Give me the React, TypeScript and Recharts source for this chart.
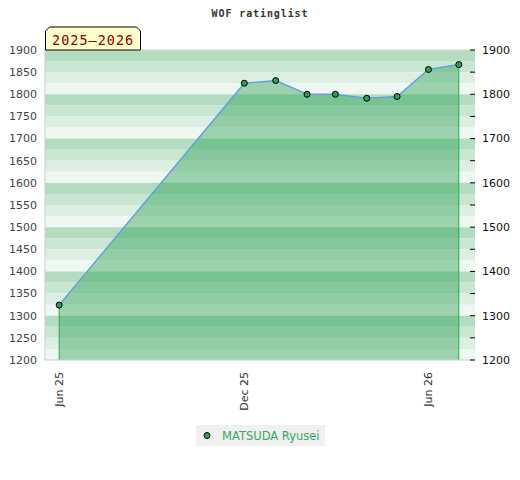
import * as React from "react"
import {
  ComposedChart,
  Area,
  Line,
  XAxis,
  YAxis,
  ReferenceArea,
  ReferenceLine,
} from "recharts"

const TITLE = "WOF ratinglist"
const SEASON = "2025–2026"
const PLAYER = "MATSUDA Ryusei"

const dates = [
  "2025-06-01",
  "2025-12-01",
  "2026-01-01",
  "2026-02-01",
  "2026-03-01",
  "2026-04-01",
  "2026-05-01",
  "2026-06-01",
  "2026-07-01",
]
const ratings = [1324, 1825, 1831, 1800, 1800, 1791, 1795, 1856, 1867]

const xTickDates = ["2025-06-01", "2025-12-01", "2026-06-01"]
const xDomainDates = ["2025-05-18", "2026-07-17"]

const Y_MIN = 1200
const Y_MAX = 1900
const yTicks = [1200, 1250, 1300, 1350, 1400, 1450, 1500, 1550, 1600, 1650, 1700, 1750, 1800, 1850, 1900]

const MONTHS = ["Jan", "Feb", "Mar", "Apr", "May", "Jun", "Jul", "Aug", "Sep", "Oct", "Nov", "Dec"]

// background stripes, top to bottom inside every 100 points
const BAND_COLORS = ["#b3dcc0", "#c8e6d2", "#ddefe3", "#eef7f1"]
const BAND_STEP = 25

const AREA_GREEN = "#229b4d"
const LINE_BLUE = "#62a3d8"
const DOT_GREEN = "#2f9e58"
const EDGE_GREEN = "#2ea84f"
const FONT = "DejaVu Sans, Verdana, sans-serif"
const MONO = "DejaVu Sans Mono, monospace"

const ts = (s: string) => new Date(s).getTime()

const data = dates.map((d, i) => ({ t: ts(d), rating: ratings[i] }))

const bands: { y1: number; y2: number; fill: string }[] = []
for (let top = Y_MAX, i = 0; top > Y_MIN; top -= BAND_STEP, i++) {
  bands.push({ y1: top - BAND_STEP, y2: top, fill: BAND_COLORS[i % BAND_COLORS.length] })
}

const fmtDate = (t: number) => {
  const d = new Date(t)
  return `${MONTHS[d.getUTCMonth()]} ${String(d.getUTCFullYear()).slice(2)}`
}

function DateTick({ x, y, payload }: any) {
  return (
    <text
      x={x}
      y={y}
      transform={`rotate(-90, ${x}, ${y})`}
      textAnchor="end"
      dy="0.35em"
      fontSize={11}
      fill="#333"
      fontFamily={FONT}
    >
      {fmtDate(payload.value)}
    </text>
  )
}

// right axis: short tick drawn inwards, label only on the hundreds
function RightTick({ x, y, payload }: any) {
  const v = payload.value as number
  return (
    <g>
      <line x1={x - 5} x2={x} y1={y} y2={y} stroke="#000" />
      {v % 100 === 0 && (
        <text x={x + 7} y={y} dy="0.35em" fontSize={11} fill="#111" fontFamily={FONT}>
          {v}
        </text>
      )}
    </g>
  )
}

export default function App() {
  const first = data[0]
  const last = data[data.length - 1]
  return (
    <div
      style={{
        position: "absolute",
        left: 0,
        top: 0,
        width: 520,
        height: 480,
        background: "#fff",
        fontFamily: FONT,
      }}
    >
      <ComposedChart
        width={520}
        height={480}
        data={data}
        margin={{ top: 50, right: 0, bottom: 60, left: 0 }}
      >
        <XAxis
          dataKey="t"
          type="number"
          scale="time"
          domain={[ts(xDomainDates[0]), ts(xDomainDates[1])]}
          ticks={xTickDates.map(ts)}
          interval={0}
          tick={<DateTick />}
          tickLine={false}
          tickSize={0}
          tickMargin={12}
          axisLine={{ stroke: "#cccccc" }}
          height={60}
        />
        <YAxis
          yAxisId="l"
          domain={[Y_MIN, Y_MAX]}
          ticks={yTicks}
          interval={0}
          width={45}
          tickLine={false}
          axisLine={{ stroke: "#cccccc" }}
          tick={{ fontSize: 11, fill: "#444", fontFamily: FONT }}
        />
        <YAxis
          yAxisId="r"
          orientation="right"
          domain={[Y_MIN, Y_MAX]}
          ticks={yTicks}
          interval={0}
          width={45}
          axisLine={false}
          tickLine={false}
          tickSize={0}
          tickMargin={0}
          tick={<RightTick />}
        />
        {bands.map((b) => (
          <ReferenceArea
            key={b.y2}
            yAxisId="l"
            y1={b.y1}
            y2={b.y2}
            fill={b.fill}
            fillOpacity={1}
            stroke="none"
          />
        ))}
        <ReferenceLine yAxisId="l" y={Y_MAX} stroke="#d6d6d6" />
        <Area
          yAxisId="r"
          dataKey="rating"
          type="linear"
          baseValue={Y_MIN}
          fill={AREA_GREEN}
          fillOpacity={0.4}
          stroke="none"
          isAnimationActive={false}
        />
        <ReferenceLine
          yAxisId="l"
          segment={[
            { x: first.t, y: Y_MIN },
            { x: first.t, y: first.rating },
          ]}
          stroke={EDGE_GREEN}
        />
        <ReferenceLine
          yAxisId="l"
          segment={[
            { x: last.t, y: Y_MIN },
            { x: last.t, y: last.rating },
          ]}
          stroke={EDGE_GREEN}
        />
        <Line
          yAxisId="l"
          dataKey="rating"
          name={PLAYER}
          type="linear"
          stroke={LINE_BLUE}
          strokeWidth={1.5}
          dot={{ r: 3, fill: DOT_GREEN, stroke: "#000", strokeWidth: 1 }}
          isAnimationActive={false}
        />
      </ComposedChart>

      <svg
        width={520}
        height={52}
        style={{ position: "absolute", left: 0, top: 0, pointerEvents: "none" }}
      >
        <text
          x={260}
          y={16.5}
          textAnchor="middle"
          fontFamily={MONO}
          fontWeight="bold"
          fontSize={10}
          letterSpacing={0.9}
          fill="#333"
        >
          {TITLE}
        </text>
        <polygon
          points="45.5,50 45.5,31 49.5,27 136.5,27 140.5,31 140.5,50"
          fill="#ffffcc"
          stroke="#000"
          strokeWidth={1}
        />
        <text
          x={52}
          y={45}
          fontFamily={MONO}
          fontSize={13.5}
          letterSpacing={1}
          fill="#8b0000"
        >
          {SEASON}
        </text>
      </svg>

      <div
        style={{
          position: "absolute",
          left: 196,
          top: 425,
          width: 129,
          height: 21,
          background: "#f0f0f0",
          display: "flex",
          alignItems: "center",
          fontSize: 11.5,
          color: "#3aa860",
        }}
      >
        <svg width={26} height={21}>
          <circle cx={11} cy={10.5} r={3} fill={DOT_GREEN} stroke="#000" strokeWidth={1} />
        </svg>
        <span>{PLAYER}</span>
      </div>
    </div>
  )
}
